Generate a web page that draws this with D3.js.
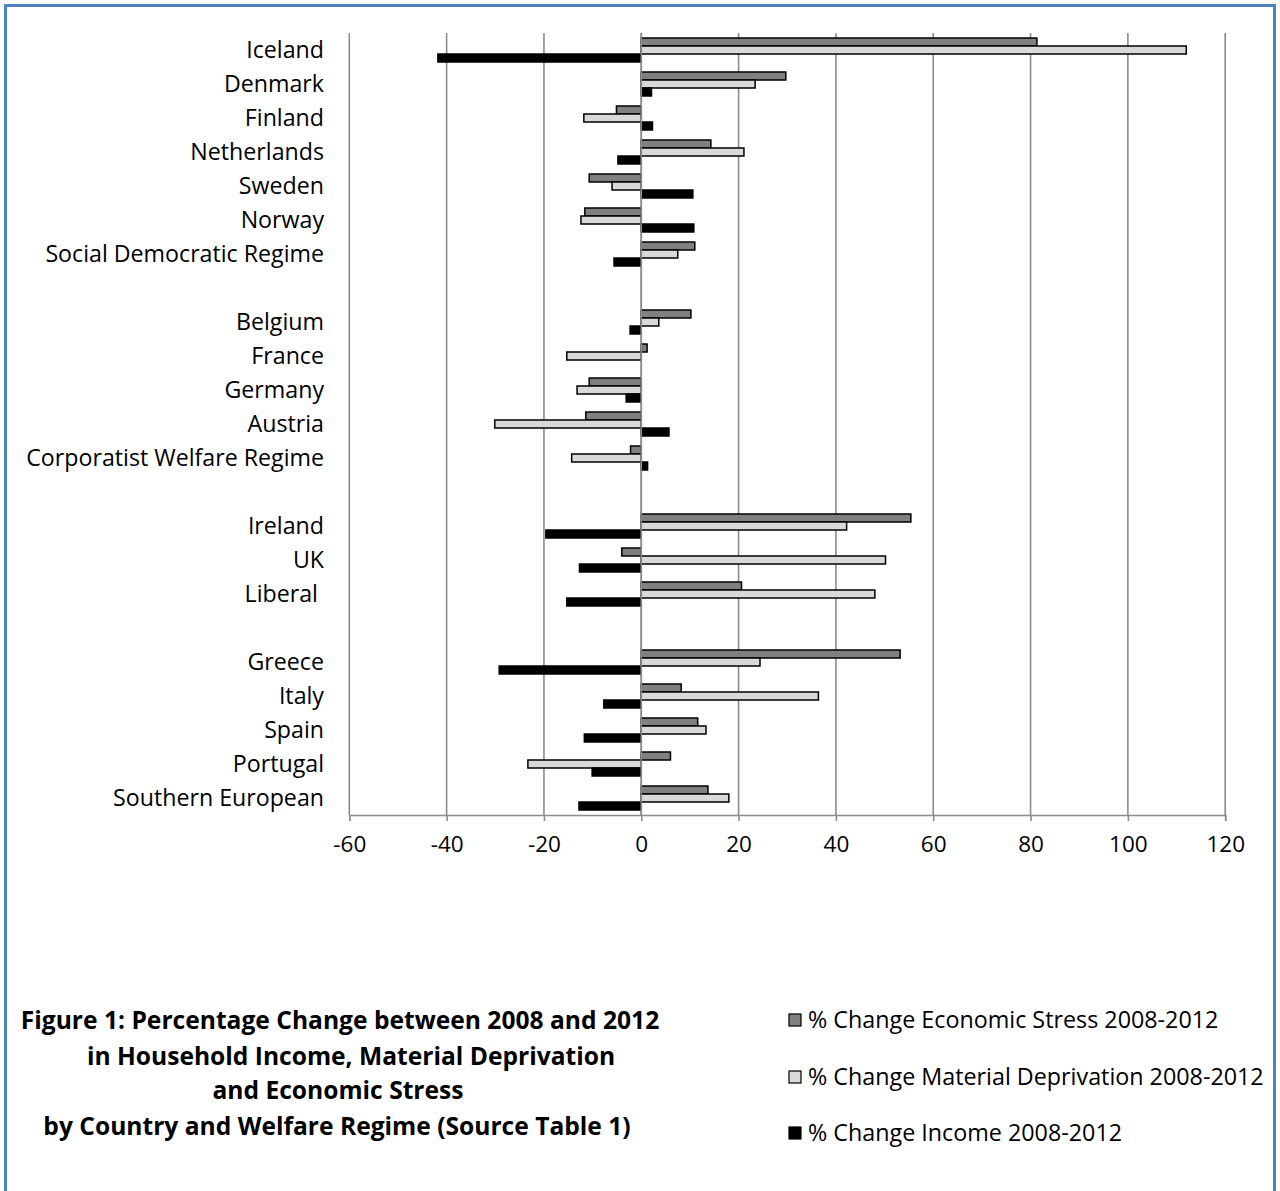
<!DOCTYPE html>
<html>
<head>
<meta charset="utf-8">
<script src="https://cdn.jsdelivr.net/npm/d3@7"></script>
<style>
  html, body { margin: 0; padding: 0; background: #ffffff; }
  svg { display: block; }
  text { font-family: "Open Sans", Lato, sans-serif; fill: #000; }
</style>
</head>
<body>
<svg id="chart" width="1280" height="1191"></svg>
<script>
// Countries and regime averages, top to bottom; empty strings are spacer rows between regimes
const categories = [
  "Iceland", "Denmark", "Finland", "Netherlands", "Sweden", "Norway", "Social Democratic Regime",
  "",
  "Belgium", "France", "Germany", "Austria", "Corporatist Welfare Regime",
  "",
  "Ireland", "UK", "Liberal ",
  "",
  "Greece", "Italy", "Spain", "Portugal", "Southern European"
];

// % change 2008-2012 per row (null on spacer rows)
const economicStress = [81.3, 29.7, -5.1, 14.3, -10.7, -11.6, 11.0, null,
  10.2, 1.2, -10.7, -11.4, -2.2, null,
  55.4, -4.0, 20.6, null,
  53.2, 8.2, 11.6, 6.0, 13.7];
const materialDeprivation = [112.0, 23.4, -11.8, 21.1, -6.0, -12.4, 7.5, null,
  3.6, -15.3, -13.2, -30.1, -14.3, null,
  42.2, 50.2, 48.0, null,
  24.4, 36.4, 13.3, -23.3, 18.0];
const incomeChange = [-41.8, 2.1, 2.3, -4.8, 10.6, 10.8, -5.6, null,
  -2.3, 0.0, -3.1, 5.7, 1.3, null,
  -19.6, -12.7, -15.3, null,
  -29.2, -7.7, -11.7, -10.1, -12.8];

const seriesNames = [
  "% Change Economic Stress 2008-2012",
  "% Change Material Deprivation 2008-2012",
  "% Change Income 2008-2012"
];
const seriesColors = ["#808080", "#d9d9d9", "#000000"];
const xTicks = [-60, -40, -20, 0, 20, 40, 60, 80, 100, 120];
const titleLines = [
  "Figure 1: Percentage Change between 2008 and 2012",
  "in Household Income, Material Deprivation",
  "and Economic Stress",
  "by Country and Welfare Regime (Source Table 1)"
];

const seriesValues = [economicStress, materialDeprivation, incomeChange];

const svg = d3.select("#chart");

// outer frame (runs past the bottom of the page)
svg.append("rect")
  .attr("x", 5.5).attr("y", 5.5)
  .attr("width", 1269).attr("height", 1260)
  .attr("fill", "none")
  .attr("stroke", "#4f81bd")
  .attr("stroke-width", 3);

const plot = { left: 349.3, right: 1225.2, top: 33, bottom: 815 };

const x = d3.scaleLinear().domain([-60, 120]).range([plot.left, plot.right]);

const y = d3.scaleBand()
  .domain(d3.range(categories.length))
  .range([plot.top, plot.bottom])
  .paddingInner(10 / 34)
  .paddingOuter(5 / 34);

const ySub = d3.scaleBand()
  .domain(d3.range(seriesValues.length))
  .range([0, y.bandwidth()]);

// vertical gridlines
svg.append("g")
  .selectAll("line")
  .data(xTicks)
  .join("line")
  .attr("x1", d => x(d)).attr("x2", d => x(d))
  .attr("y1", plot.top).attr("y2", plot.bottom)
  .attr("stroke", "#8c8c8c")
  .attr("stroke-width", 1.6);

// bars, one group per series
const barG = svg.append("g");
seriesValues.forEach((vals, si) => {
  barG.append("g")
    .selectAll("rect")
    .data(vals.map((v, i) => ({ v, i })).filter(d => d.v !== null && d.v !== 0))
    .join("rect")
    .attr("x", d => x(Math.min(0, d.v)))
    .attr("width", d => Math.abs(x(d.v) - x(0)))
    .attr("y", d => y(d.i) + ySub(si))
    .attr("height", ySub.bandwidth())
    .attr("fill", seriesColors[si])
    .attr("stroke", "#000")
    .attr("stroke-width", 1.5);
});

// value axis along the bottom
const xAxis = d3.axisBottom(x).tickValues(xTicks).tickSize(6).tickPadding(15).tickFormat(d => String(d));
const gx = svg.append("g")
  .attr("transform", `translate(0,${plot.bottom})`)
  .call(xAxis);
gx.select(".domain").attr("stroke", "#8c8c8c").attr("stroke-width", 1.6);
gx.selectAll(".tick line").attr("stroke", "#8c8c8c").attr("stroke-width", 1.6);
gx.selectAll(".tick text")
  .attr("font-family", "'Open Sans', Lato, sans-serif")
  .attr("font-size", 22.5)
  .attr("fill", "#000")
  .attr("dy", "0.71em");

// category axis line at zero, drawn over the bars
svg.append("line")
  .attr("x1", x(0)).attr("x2", x(0))
  .attr("y1", plot.top).attr("y2", plot.bottom)
  .attr("stroke", "#8c8c8c")
  .attr("stroke-width", 1.6);

// category labels
svg.append("g")
  .selectAll("text")
  .data(categories.map((c, i) => ({ c, i })).filter(d => d.c !== ""))
  .join("text")
  .attr("x", 324)
  .attr("y", d => y(d.i) + y.bandwidth() / 2)
  .attr("dy", "0.35em")
  .attr("text-anchor", "end")
  .attr("font-size", 23.2)
  .style("white-space", "pre")
  .text(d => d.c);

// figure caption
svg.append("g")
  .selectAll("text")
  .data(titleLines)
  .join("text")
  .attr("x", (d, i) => [340, 351, 338, 337][i])
  .attr("y", (d, i) => [1020, 1056, 1090, 1126][i])
  .attr("dy", "0.35em")
  .attr("text-anchor", "middle")
  .attr("font-weight", "bold")
  .attr("font-size", 24.6)
  .text(d => d);

// legend
const legend = svg.append("g")
  .selectAll("g")
  .data(seriesNames)
  .join("g")
  .attr("transform", (d, i) => `translate(789,${[1020, 1077, 1133][i]})`);
legend.append("rect")
  .attr("x", 0).attr("y", -6)
  .attr("width", 12).attr("height", 12)
  .attr("fill", (d, i) => seriesColors[i])
  .attr("stroke", "#000")
  .attr("stroke-width", 1.2);
legend.append("text")
  .attr("x", 19)
  .attr("dy", "0.35em")
  .attr("font-size", 23.3)
  .text(d => d);
</script>
</body>
</html>
